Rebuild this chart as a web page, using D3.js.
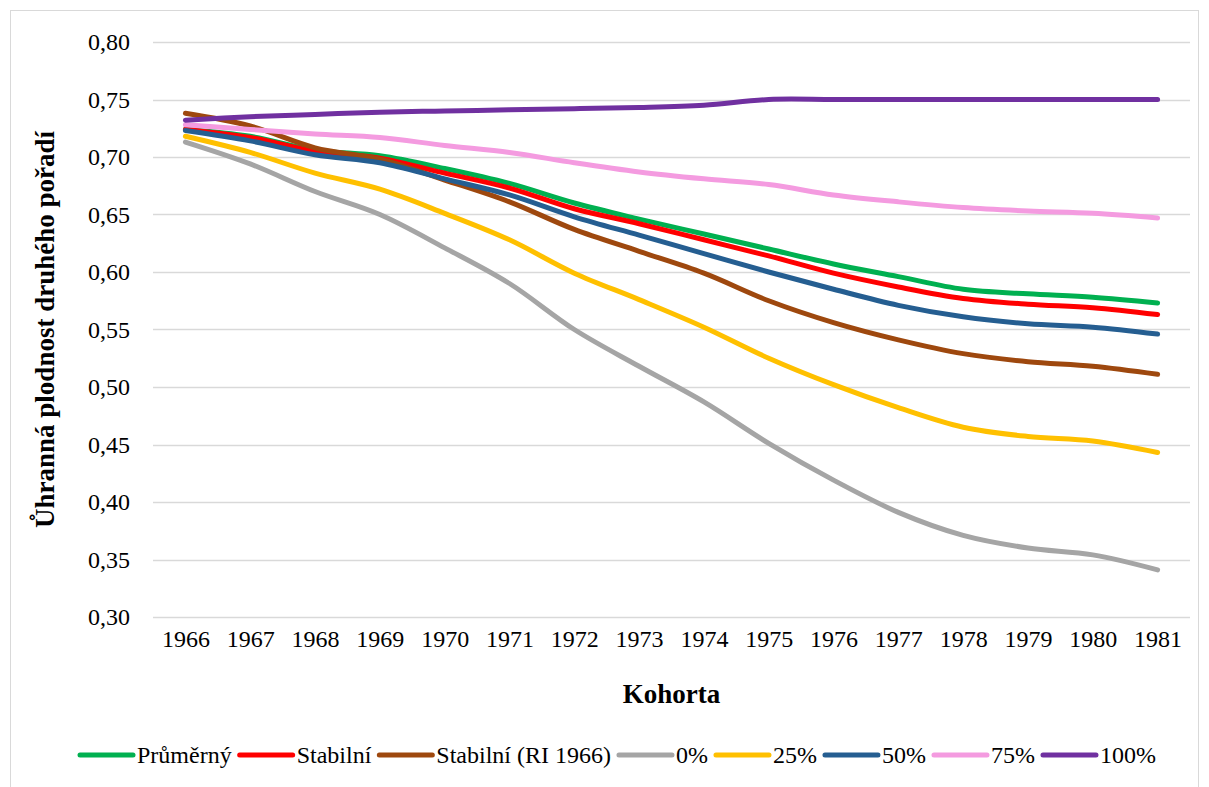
<!DOCTYPE html>
<html>
<head>
<meta charset="utf-8">
<script src="https://cdn.jsdelivr.net/npm/d3@7"></script>
<style>
  body { margin: 0; background: #fff; }
  text { font-family: "Liberation Serif", "Times New Roman", serif; fill: #000; }
</style>
</head>
<body>
<div id="chart"></div>
<script>
// categories (cohorts)
var years = ["1966","1967","1968","1969","1970","1971","1972","1973","1974","1975","1976","1977","1978","1979","1980","1981"];
var yTicks = [0.30,0.35,0.40,0.45,0.50,0.55,0.60,0.65,0.70,0.75,0.80];

// series values
var prumerny  = [0.724,0.718,0.706,0.701,0.690,0.677,0.660,0.646,0.633,0.620,0.607,0.596,0.585,0.581,0.578,0.573];
var stabilni  = [0.724,0.717,0.705,0.699,0.686,0.673,0.655,0.642,0.628,0.614,0.599,0.587,0.577,0.572,0.569,0.563];
var stabRI    = [0.738,0.727,0.708,0.698,0.680,0.661,0.637,0.618,0.599,0.575,0.556,0.541,0.529,0.522,0.518,0.511];
var p0        = [0.713,0.694,0.670,0.650,0.621,0.590,0.550,0.518,0.487,0.451,0.419,0.391,0.371,0.360,0.354,0.341];
var p25       = [0.718,0.704,0.686,0.672,0.651,0.628,0.599,0.576,0.552,0.525,0.502,0.482,0.465,0.457,0.453,0.443];
var p50       = [0.723,0.714,0.702,0.695,0.681,0.667,0.648,0.632,0.616,0.600,0.585,0.571,0.561,0.555,0.552,0.546];
var p75       = [0.728,0.724,0.720,0.717,0.710,0.704,0.695,0.687,0.681,0.676,0.667,0.661,0.656,0.653,0.651,0.647];
var p100      = [0.732,0.735,0.737,0.739,0.740,0.741,0.742,0.743,0.745,0.750,0.750,0.750,0.750,0.750,0.750,0.750];

var names  = ["Průměrný","Stabilní","Stabilní (RI 1966)","0%","25%","50%","75%","100%"];
var colors = ["#00b050","#ff0000","#9e480e","#a5a5a5","#ffc000","#255e91","#f49be0","#7030a0"];
// drawing order: first drawn is at the bottom
var values = [prumerny, stabilni, stabRI, p0, p25, p50, p75, p100];

var svgWidth = 1209, svgHeight = 787;

var svg = d3.select("#chart").append("svg")
  .attr("width", svgWidth)
  .attr("height", svgHeight);

// chart area border
svg.append("rect")
  .attr("x", 10.5).attr("y", 10.5)
  .attr("width", 1188).attr("height", 790)
  .attr("fill", "none")
  .attr("stroke", "#d9d9d9");

var plotLeft = 153, plotRight = 1190, plotTop = 42, plotBottom = 617;

var x = d3.scalePoint()
  .domain(years)
  .range([plotLeft, plotRight])
  .padding(0.5);

var y = d3.scaleLinear()
  .domain([0.30, 0.80])
  .range([plotBottom, plotTop]);

// gridlines
svg.append("g")
  .selectAll("line")
  .data(yTicks)
  .enter()
  .append("line")
  .attr("x1", plotLeft).attr("x2", plotRight)
  .attr("y1", d => Math.round(y(d)) + 0.5)
  .attr("y2", d => Math.round(y(d)) + 0.5)
  .attr("stroke", "#d9d9d9")
  .attr("stroke-width", 1.3);

// y tick labels
var yAxis = d3.axisLeft(y).tickValues(yTicks).tickSize(0).tickPadding(0)
  .tickFormat(d => d3.format(".2f")(d).replace(".", ","));
var gy = svg.append("g")
  .attr("transform", "translate(130,0)")
  .call(yAxis);
gy.select(".domain").remove();
gy.selectAll("text")
  .attr("font-size", "24px")
  .attr("font-family", "Liberation Serif")
  .attr("fill", "#000");

// x tick labels
var xAxis = d3.axisBottom(x).tickSize(0).tickPadding(0);
var gx = svg.append("g")
  .attr("transform", "translate(0,630)")
  .call(xAxis);
gx.select(".domain").remove();
gx.selectAll("text")
  .attr("font-size", "24px")
  .attr("font-family", "Liberation Serif")
  .attr("fill", "#000");

// axis titles
svg.append("text")
  .attr("x", (plotLeft + plotRight) / 2)
  .attr("y", 703)
  .attr("text-anchor", "middle")
  .attr("font-size", "27px")
  .attr("font-weight", "bold")
  .text("Kohorta");

svg.append("text")
  .attr("transform", "translate(54," + ((plotTop + plotBottom) / 2) + ") rotate(-90)")
  .attr("text-anchor", "middle")
  .attr("font-size", "27px")
  .attr("font-weight", "bold")
  .text("Ůhranná plodnost druhého pořadí");

// lines (smoothed like the original)
var line = d3.line()
  .x((d, i) => x(years[i]))
  .y(d => y(d))
  .curve(d3.curveCatmullRom.alpha(0.5));

svg.append("g")
  .selectAll("path")
  .data(values)
  .enter()
  .append("path")
  .attr("d", d => line(d))
  .attr("fill", "none")
  .attr("stroke", (d, i) => colors[i])
  .attr("stroke-width", 5)
  .attr("stroke-linecap", "round")
  .attr("stroke-linejoin", "round");

// legend
var legend = svg.append("g");
var lx = 78, ly = 755;
names.forEach(function(name, i) {
  legend.append("line")
    .attr("x1", lx + 2).attr("x2", lx + 55)
    .attr("y1", ly).attr("y2", ly)
    .attr("stroke", colors[i])
    .attr("stroke-width", 5)
    .attr("stroke-linecap", "round");
  var t = legend.append("text")
    .attr("x", lx + 59)
    .attr("y", ly + 8)
    .attr("font-size", "24px")
    .text(name);
  lx += 59 + t.node().getComputedTextLength() + 6;
});
</script>
</body>
</html>
